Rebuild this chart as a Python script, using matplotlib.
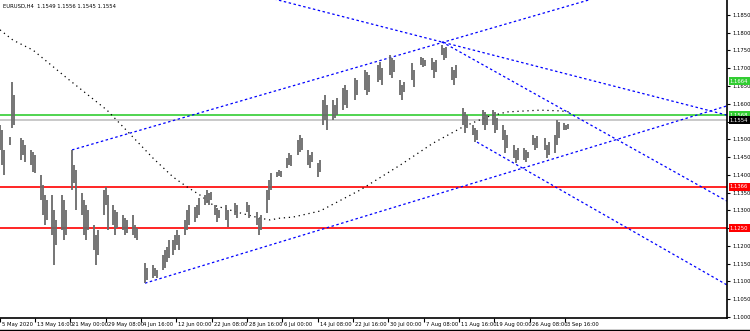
import matplotlib
matplotlib.use("Agg")
import matplotlib.pyplot as plt
import matplotlib.transforms as mtransforms
from matplotlib.lines import Line2D

# chart header
TITLE = "EURUSD,H4  1.1549 1.1556 1.1545 1.1554"

# H4 bars: position on the time axis, high, low
bar_x = [0, 2, 4, 10, 12, 14, 21, 23, 25, 31, 33, 35, 41, 43, 45, 47,
         52, 54, 56, 62, 64, 66, 72, 74, 76, 82, 84, 86, 88, 94, 96, 98,
         104, 106, 108, 113, 115, 117, 123, 125, 127, 133, 135, 137,
         145, 147, 153, 155, 157, 163, 165, 167, 169, 173, 175, 177, 179,
         185, 187, 189, 195, 197, 199, 205, 207, 209, 211, 215, 217, 219,
         226, 228, 235, 237, 247, 249, 257, 259, 261, 267, 269, 271,
         277, 279, 281, 287, 289, 291, 298, 300, 302, 308, 310, 312, 318, 320,
         323, 325, 327, 333, 335, 337, 343, 345, 347, 355, 357, 365, 367, 369,
         378, 380, 382, 390, 392, 394, 400, 402, 404, 412, 414, 421, 423, 425,
         432, 434, 436, 442, 444, 446, 452, 454, 456, 463, 465, 467,
         473, 475, 477, 483, 485, 487, 493, 495, 497, 503, 505, 507,
         514, 516, 518, 524, 526, 528, 533, 535, 537, 545, 547, 549,
         555, 557, 559, 564, 566, 568]
bar_high = [1.1540, 1.1526, 1.1470, 1.1506, 1.1661, 1.1625, 1.1504, 1.1498, 1.1484,
            1.1470, 1.1464, 1.1456, 1.1399, 1.1371, 1.1343, 1.1329,
            1.1343, 1.1301, 1.1273, 1.1343, 1.1329, 1.1301, 1.1470, 1.1427, 1.1413,
            1.1349, 1.1329, 1.1315, 1.1301, 1.1259, 1.1230, 1.1245,
            1.1357, 1.1366, 1.1343, 1.1315, 1.1301, 1.1295, 1.1287, 1.1278, 1.1273,
            1.1287, 1.1259, 1.1250,
            1.1152, 1.1138, 1.1146, 1.1138, 1.1132, 1.1174, 1.1188, 1.1197, 1.1216,
            1.1216, 1.1230, 1.1245, 1.1230,
            1.1273, 1.1301, 1.1315, 1.1309, 1.1315, 1.1335, 1.1343, 1.1357, 1.1349, 1.1352,
            1.1315, 1.1306, 1.1301,
            1.1315, 1.1301, 1.1321, 1.1315, 1.1323, 1.1315, 1.1295, 1.1278, 1.1287,
            1.1357, 1.1385, 1.1405,
            1.1408, 1.1413, 1.1411, 1.1447, 1.1461, 1.1456, 1.1498, 1.1512, 1.1504,
            1.1470, 1.1456, 1.1464, 1.1433, 1.1442,
            1.1611, 1.1625, 1.1596, 1.1611, 1.1596, 1.1616, 1.1644, 1.1653, 1.1639,
            1.1672, 1.1667, 1.1695, 1.1689, 1.1681,
            1.1709, 1.1717, 1.1701, 1.1737, 1.1729, 1.1723, 1.1667, 1.1653, 1.1661,
            1.1715, 1.1695, 1.1732, 1.1729, 1.1723,
            1.1729, 1.1717, 1.1723, 1.1765, 1.1757, 1.1760, 1.1703, 1.1695, 1.1709,
            1.1588, 1.1577, 1.1568,
            1.1540, 1.1532, 1.1526, 1.1582, 1.1577, 1.1568, 1.1582, 1.1577, 1.1560,
            1.1540, 1.1526, 1.1512,
            1.1484, 1.1470, 1.1475, 1.1475, 1.1470, 1.1464, 1.1512, 1.1504, 1.1509,
            1.1504, 1.1484, 1.1492,
            1.1512, 1.1554, 1.1549, 1.1546, 1.1540, 1.1543]
bar_low = [1.1470, 1.1427, 1.1399, 1.1484, 1.1532, 1.1540, 1.1442, 1.1456, 1.1436,
           1.1427, 1.1408, 1.1405, 1.1329, 1.1287, 1.1259, 1.1273,
           1.1230, 1.1146, 1.1202, 1.1245, 1.1216, 1.1230, 1.1357, 1.1377, 1.1301,
           1.1287, 1.1230, 1.1216, 1.1245, 1.1188, 1.1146, 1.1174,
           1.1287, 1.1315, 1.1245, 1.1259, 1.1230, 1.1250, 1.1245, 1.1230, 1.1236,
           1.1230, 1.1222, 1.1216,
           1.1095, 1.1104, 1.1109, 1.1115, 1.1109, 1.1132, 1.1138, 1.1155, 1.1166,
           1.1174, 1.1188, 1.1202, 1.1188,
           1.1230, 1.1245, 1.1259, 1.1267, 1.1278, 1.1287, 1.1315, 1.1321, 1.1315, 1.1329,
           1.1287, 1.1267, 1.1278,
           1.1273, 1.1253, 1.1287, 1.1278, 1.1295, 1.1278, 1.1259, 1.1230, 1.1245,
           1.1292, 1.1329, 1.1357,
           1.1394, 1.1397, 1.1394, 1.1419, 1.1427, 1.1425, 1.1456, 1.1464, 1.1470,
           1.1427, 1.1419, 1.1436, 1.1394, 1.1408,
           1.1540, 1.1554, 1.1526, 1.1554, 1.1560, 1.1568, 1.1582, 1.1596, 1.1588,
           1.1611, 1.1625, 1.1639, 1.1625, 1.1633,
           1.1661, 1.1667, 1.1653, 1.1681, 1.1672, 1.1689, 1.1625, 1.1611, 1.1633,
           1.1667, 1.1647, 1.1709, 1.1703, 1.1706,
           1.1695, 1.1672, 1.1689, 1.1737, 1.1723, 1.1729, 1.1667, 1.1653, 1.1672,
           1.1540, 1.1518, 1.1532,
           1.1512, 1.1492, 1.1498, 1.1540, 1.1526, 1.1540, 1.1540, 1.1518, 1.1526,
           1.1498, 1.1461, 1.1475,
           1.1447, 1.1433, 1.1442, 1.1442, 1.1436, 1.1447, 1.1484, 1.1470, 1.1475,
           1.1470, 1.1447, 1.1456,
           1.1461, 1.1484, 1.1504, 1.1526, 1.1526, 1.1529]

# moving average (black dotted)
ma_x = [0, 13, 33, 67, 107, 133, 153, 173, 187, 200, 213, 237, 260, 270, 280,
        293, 320, 360, 400, 433, 463, 487, 507, 540, 560, 570]
ma_val = [1.1808, 1.1779, 1.1751, 1.1672, 1.1582, 1.1506, 1.1447, 1.1394, 1.1366,
          1.1343, 1.1315, 1.1295, 1.1278, 1.1273, 1.1278, 1.1281, 1.1298, 1.1357,
          1.1427, 1.1489, 1.1535, 1.1563, 1.1577, 1.1582, 1.1580, 1.1577]

# blue trend lines: start / end
trend_x0 = [72, 260, 442, 145, 477]
trend_p0 = [1.1470, 1.1905, 1.1774, 1.1095, 1.1492]
trend_x1 = [727, 727, 727, 727, 727]
trend_p1 = [1.2005, 1.1568, 1.1326, 1.1594, 1.1090]

# horizontal levels
green_level = 1.1568
bid_level = 1.1554
red_levels = [1.1366, 1.1250]
green_tag = 1.1664

# axes ticks
xtick_pos = [0, 35, 70, 106, 141, 176, 212, 247, 282, 318, 353, 388, 424, 459, 494, 530, 565]
xtick_lab = ["5 May 2020", "13 May 16:00", "21 May 00:00", "29 May 08:00", "4 Jun 16:00",
             "12 Jun 00:00", "22 Jun 08:00", "28 Jun 16:00", "6 Jul 00:00", "14 Jul 08:00",
             "22 Jul 16:00", "30 Jul 00:00", "7 Aug 08:00", "11 Aug 16:00", "19 Aug 00:00",
             "26 Aug 08:00", "3 Sep 16:00"]
ytick_vals = [1.1850, 1.1800, 1.1750, 1.1700, 1.1650, 1.1600, 1.1550, 1.1500, 1.1450,
              1.1400, 1.1350, 1.1300, 1.1250, 1.1200, 1.1150, 1.1100, 1.1050, 1.1000]

plt.rcParams['font.family'] = ['DejaVu Sans']
SMALL = 3.8

fig = plt.figure(figsize=(7.5, 3.31), dpi=100)
fig.patch.set_facecolor("white")
ax = fig.add_axes([0, 13 / 331, 727 / 750, 318 / 331])
ax.set_xlim(0, 727)
ax.set_ylim(1.0997, 1.1892)

for s in ["left", "top"]:
    ax.spines[s].set_visible(False)
ax.spines["right"].set_linewidth(1.2)
ax.spines["bottom"].set_linewidth(1.2)

# levels
ax.axhline(green_level, color="#32cd32", lw=1.2, zorder=1)
ax.axhline(bid_level, color="#c0c0c0", lw=1.2, zorder=1)
for lv in red_levels:
    ax.axhline(lv, color="#ff0000", lw=1.2, zorder=1)

# trend lines
for x0, p0, x1, p1 in zip(trend_x0, trend_p0, trend_x1, trend_p1):
    ax.plot([x0, x1], [p0, p1], color="#0000ff", lw=0.9,
            linestyle=(0, (2, 2)), zorder=2)

# moving average
ax.plot(ma_x, ma_val, color="black", lw=0.9, linestyle=(0, (1, 3)), zorder=3)

# bars
ax.vlines(bar_x, bar_low, bar_high, color="#6a6a6a", lw=1.3, zorder=4)

# price tags on the axis (these cover the scale labels beneath them)
tag_vals = [green_tag, green_level, bid_level, red_levels[0], red_levels[1]]
tag_cols = ["#32cd32", "#32cd32", "black", "#ff0000", "#ff0000"]

# y axis on the right
ax.yaxis.tick_right()
ax.set_yticks(ytick_vals)
ylabs = []
for v in ytick_vals:
    covered = any(abs(v - t) < 0.0012 for t in tag_vals)
    ylabs.append("" if covered else f"{v:.4f}")
ax.set_yticklabels(ylabs)
ax.tick_params(axis="y", direction="out", length=2, width=0.8, pad=2,
               labelsize=SMALL, colors="black")

ax.set_xticks(xtick_pos)
ax.set_xticklabels([])
ax.tick_params(axis="x", direction="out", length=3, width=0.8)
xtr = mtransforms.blended_transform_factory(ax.transData, ax.transAxes)
for xp, lab in zip(xtick_pos, xtick_lab):
    ax.text(xp + 2, -0.012, lab, transform=xtr,
            fontsize=SMALL, ha="left", va="top", clip_on=False)

tr = mtransforms.blended_transform_factory(ax.transAxes, ax.transData)
for val, col in zip(tag_vals, tag_cols):
    ax.text(1.004, val, f"{val:.4f}", transform=tr, fontsize=SMALL, color="white",
            ha="left", va="center", clip_on=False, zorder=6,
            bbox=dict(facecolor=col, edgecolor="none", pad=0.9))

ax.text(3, 1.1892 - 0.0010, TITLE, fontsize=SMALL, ha="left", va="top")

fig.add_artist(Line2D([0, 1], [1.5 / 331, 1.5 / 331], color="black", lw=1.0))

fig.savefig("out.png", dpi=100, facecolor="white")
